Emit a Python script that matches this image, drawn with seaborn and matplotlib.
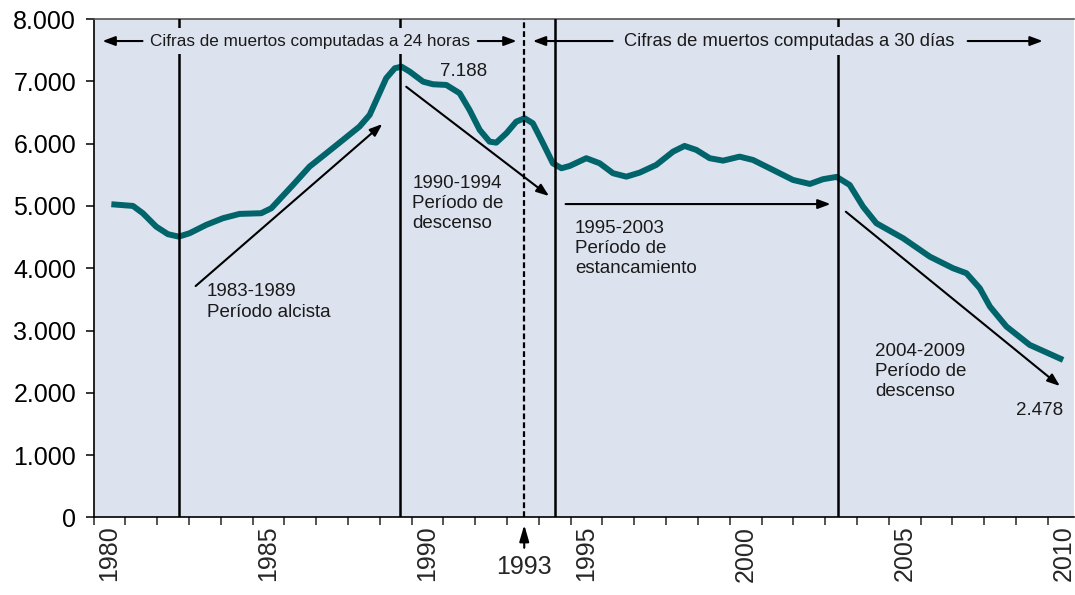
import matplotlib
matplotlib.use("Agg")
import matplotlib.pyplot as plt
import pandas as pd
import seaborn as sns

# ---- data ----
years = [1980.56, 1981.24, 1981.55, 1981.97, 1982.34, 1982.68, 1983.02, 1983.54,
         1984.07, 1984.59, 1985.27, 1985.59, 1986.27, 1986.79, 1987.32, 1987.84,
         1988.36, 1988.68, 1988.94, 1989.20, 1989.47, 1989.68, 1989.94, 1990.36,
         1990.67, 1991.09, 1991.51, 1991.82, 1992.14, 1992.45, 1992.66, 1992.98,
         1993.29, 1993.55, 1993.81, 1994.13, 1994.44, 1994.71, 1994.97, 1995.49,
         1995.91, 1996.33, 1996.75, 1997.17, 1997.69, 1998.22, 1998.58, 1998.95,
         1999.37, 1999.79, 2000.31, 2000.73, 2001.36, 2001.99, 2002.52, 2002.93,
         2003.36, 2003.77, 2004.19, 2004.61, 2005.45, 2006.29, 2007.02, 2007.44,
         2007.86, 2008.18, 2008.70, 2009.43, 2010.48]
deaths = [5027, 5000, 4883, 4668, 4546, 4507, 4562, 4695,
          4803, 4872, 4883, 4963, 5337, 5631, 5846, 6059,
          6273, 6461, 6755, 7050, 7210, 7236, 7156, 6995,
          6953, 6942, 6809, 6541, 6220, 6032, 6016, 6167,
          6353, 6408, 6327, 6006, 5685, 5605, 5642, 5766,
          5685, 5525, 5470, 5535, 5658, 5872, 5963, 5899,
          5766, 5727, 5791, 5738, 5578, 5417, 5353, 5429,
          5466, 5337, 4989, 4722, 4481, 4186, 4000, 3920,
          3679, 3384, 3063, 2769, 2528]

ytick_values = [0, 1000, 2000, 3000, 4000, 5000, 6000, 7000, 8000]
ytick_labels = ["0", "1.000", "2.000", "3.000", "4.000", "5.000", "6.000", "7.000", "8.000"]
xtick_years = [1980, 1985, 1990, 1995, 2000, 2005, 2010]
xtick_labels = ["1980", "1985", "1990", "1995", "2000", "2005", "2010"]

period_breaks = [1982.68, 1989.63, 1994.51, 2003.40]
method_change = 1993.54

trend_arrows = [  # (tail_x, tail_y, tip_x, tip_y)
    (1983.21, 3714, 1989.08, 6315),
    (1989.83, 6913, 1994.32, 5159),
    (1994.84, 5030, 2003.17, 5030),
    (2003.65, 4907, 2010.38, 2109),
]
period_texts = [
    (1983.57, 3457, "1983-1989\nPeríodo alcista"),
    (1990.02, 5042, "1990-1994\nPeríodo de\ndescenso"),
    (1995.13, 4319, "1995-2003\nPeríodo de\nestancamiento"),
    (2004.56, 2342, "2004-2009\nPeríodo de\ndescenso"),
]
value_labels = [(1991.64, 7165, "7.188"), (2009.75, 1724, "2.478")]

top_row_y = 7647
top_texts = [(1986.79, "Cifras de muertos computadas a 24 horas"),
             (2001.86, "Cifras de muertos computadas a 30 días")]
top_text_sizes = [12.3, 13.2]
top_arrows = [(1981.54, 1980.28), (1992.08, 1993.30), (1996.32, 1993.81), (2007.48, 2009.84)]

# ---- style ----
sns.set_style("ticks")
plt.rcParams['font.family'] = ['Liberation Sans', 'DejaVu Sans']

BG = "#dce2ee"
TEAL = "#00646a"
INK = "#1a1a1a"

fig = plt.figure(figsize=(10.75, 5.95), dpi=100)
ax = fig.add_axes([0.087, 0.1304, 0.912, 0.8376])
ax.set_facecolor(BG)

df = pd.DataFrame({"year": years, "deaths": deaths})
sns.lineplot(data=df, x="year", y="deaths", ax=ax, color=TEAL, lw=4.3,
             sort=False, zorder=3)
for l in ax.lines:
    l.set_solid_joinstyle("round")
    l.set_solid_capstyle("butt")

for xb in period_breaks:
    ax.axvline(xb, color="black", lw=1.8, zorder=4)
ax.axvline(method_change, color="black", lw=1.6, ls=(0, (2.6, 1.4)), zorder=4)

for tx, ty, hx, hy in trend_arrows:
    ax.annotate("", xy=(hx, hy), xytext=(tx, ty),
                arrowprops=dict(arrowstyle="-|>,head_length=0.75,head_width=0.28",
                                color="black", lw=1.5, shrinkA=0, shrinkB=0),
                zorder=5)

for x, y, s in period_texts:
    ax.text(x, y, s, ha="left", va="center", fontsize=13.5, linespacing=1.25,
            color=INK, zorder=6)
for x, y, s in value_labels:
    ax.text(x, y, s, ha="center", va="center", fontsize=13.5, color=INK, zorder=6)

for (x, s), fs in zip(top_texts, top_text_sizes):
    ax.text(x, top_row_y, s, ha="center", va="center", fontsize=fs, color=INK,
            zorder=7, bbox=dict(fc=BG, ec="none", pad=4))
for tx, hx in top_arrows:
    ax.annotate("", xy=(hx, top_row_y), xytext=(tx, top_row_y),
                arrowprops=dict(arrowstyle="-|>,head_length=0.75,head_width=0.28",
                                color="black", lw=1.5, shrinkA=0, shrinkB=0),
                zorder=7)

ax.annotate("1993", xy=(method_change, -120), xytext=(method_change, -800),
            ha="center", va="center", fontsize=18, annotation_clip=False,
            arrowprops=dict(arrowstyle="-|>,head_length=0.55,head_width=0.16",
                            color="black", lw=1.5, shrinkA=3, shrinkB=0))

ax.set_xlim(1980, 2010.82)
ax.set_ylim(0, 8000)
ax.set_xlabel("")
ax.set_ylabel("")

ax.set_yticks(ytick_values)
ax.set_yticklabels(ytick_labels, fontsize=18)
ax.tick_params(axis="y", length=5.5, width=1.1, pad=7, colors="black")

ax.set_xticks([y + 0.5 for y in xtick_years])
ax.set_xticklabels(xtick_labels, rotation=90, fontsize=18)
ax.tick_params(axis="x", which="major", length=0, pad=6)
ax.set_xticks(range(1980, 2011), minor=True)
ax.tick_params(axis="x", which="minor", length=5.5, width=1.1)

for side in ["left", "bottom"]:
    ax.spines[side].set_color("black")
    ax.spines[side].set_linewidth(1.2)
ax.spines["top"].set_color("#555555")
ax.spines["top"].set_linewidth(1.2)
ax.spines["right"].set_visible(False)

fig.savefig("out.png", dpi=100, facecolor="white")
